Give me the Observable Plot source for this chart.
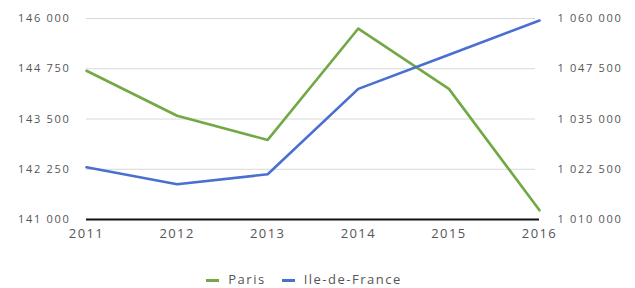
<!DOCTYPE html>
<html>
<head>
<meta charset="utf-8">
<script src="https://cdn.jsdelivr.net/npm/d3@7"></script>
<script src="https://cdn.jsdelivr.net/npm/@observablehq/plot@0.6"></script>
<style>
  body { margin: 0; background: #fff; font-family: "Open Sans", sans-serif; }
  #legend { height: 42px; display: flex; justify-content: center; align-items: center; gap: 16px; font-size: 13px; letter-spacing: 1.5px; color: #555; margin-left: -27px; }
  #legend span.sw { display: inline-block; width: 13px; height: 3px; vertical-align: middle; margin-right: 9px; }
  g[aria-label="y-axis tick label"] text { letter-spacing: 1.7px; }
  g[aria-label="x-axis tick label"] text { letter-spacing: 1.4px; }
</style>
</head>
<body>
<div id="chart"></div>
<div id="legend"></div>
<script>
const years = [2011, 2012, 2013, 2014, 2015, 2016];
const paris = [144700, 143580, 142980, 145750, 144250, 141230];
const idf = [1023000, 1018750, 1021250, 1042500, 1051000, 1059500];
const leftTicks = [141000, 142250, 143500, 144750, 146000];
const rightTicks = [1010000, 1022500, 1035000, 1047500, 1060000];
const seriesNames = ["Paris", "Ile-de-France"];
const colors = ["#72a845", "#4a6fd0"];

const fr = d3.formatLocale({decimal: ",", thousands: "\u00a0", grouping: [3], currency: ["", ""]});
const fmt = fr.format(",d");

// map right axis domain onto left axis domain
const toLeft = d3.scaleLinear().domain([rightTicks[0], rightTicks[rightTicks.length - 1]]).range([leftTicks[0], leftTicks[leftTicks.length - 1]]);

const data = [
  ...years.map((yr, i) => ({year: yr, value: paris[i], series: seriesNames[0]})),
  ...years.map((yr, i) => ({year: yr, value: toLeft(idf[i]), series: seriesNames[1]}))
];

const chart = Plot.plot({
  width: 635,
  height: 258,
  marginLeft: 86,
  marginRight: 96,
  marginTop: 18,
  marginBottom: 39,
  style: {fontFamily: "Open Sans, sans-serif", background: "#fff"},
  x: {domain: [2011, 2016]},
  y: {domain: [leftTicks[0], leftTicks[leftTicks.length - 1]]},
  color: {domain: seriesNames, range: colors},
  marks: [
    Plot.gridY(leftTicks.slice(1), {x1: 2011, x2: 2016, stroke: "#d8d8d8", strokeOpacity: 1, strokeWidth: 1, insetRight: 4}),
    Plot.axisY(leftTicks, {anchor: "left", tickSize: 0, tickPadding: 16, tickFormat: fmt, fontSize: 11, fill: "#555", label: null}),
    Plot.axisY(leftTicks, {anchor: "right", tickSize: 0, tickPadding: 18, textAnchor: "start", tickFormat: d => fmt(Math.round(toLeft.invert(d))), fontSize: 11, fill: "#555", label: null}),
    Plot.axisX(years, {tickSize: 0, tickPadding: 9, tickFormat: d => String(d), fontSize: 13, fill: "#555", label: null}),
    Plot.ruleY([leftTicks[0]], {stroke: "#111", strokeWidth: 2}),
    Plot.line(data, {x: "year", y: "value", z: "series", stroke: "series", strokeWidth: 2.6})
  ]
});
document.getElementById("chart").appendChild(chart);

const legend = document.getElementById("legend");
seriesNames.forEach((n, i) => {
  const d = document.createElement("div");
  d.innerHTML = `<span class="sw" style="background:${colors[i]}"></span>${n}`;
  legend.appendChild(d);
});
</script>
</body>
</html>
